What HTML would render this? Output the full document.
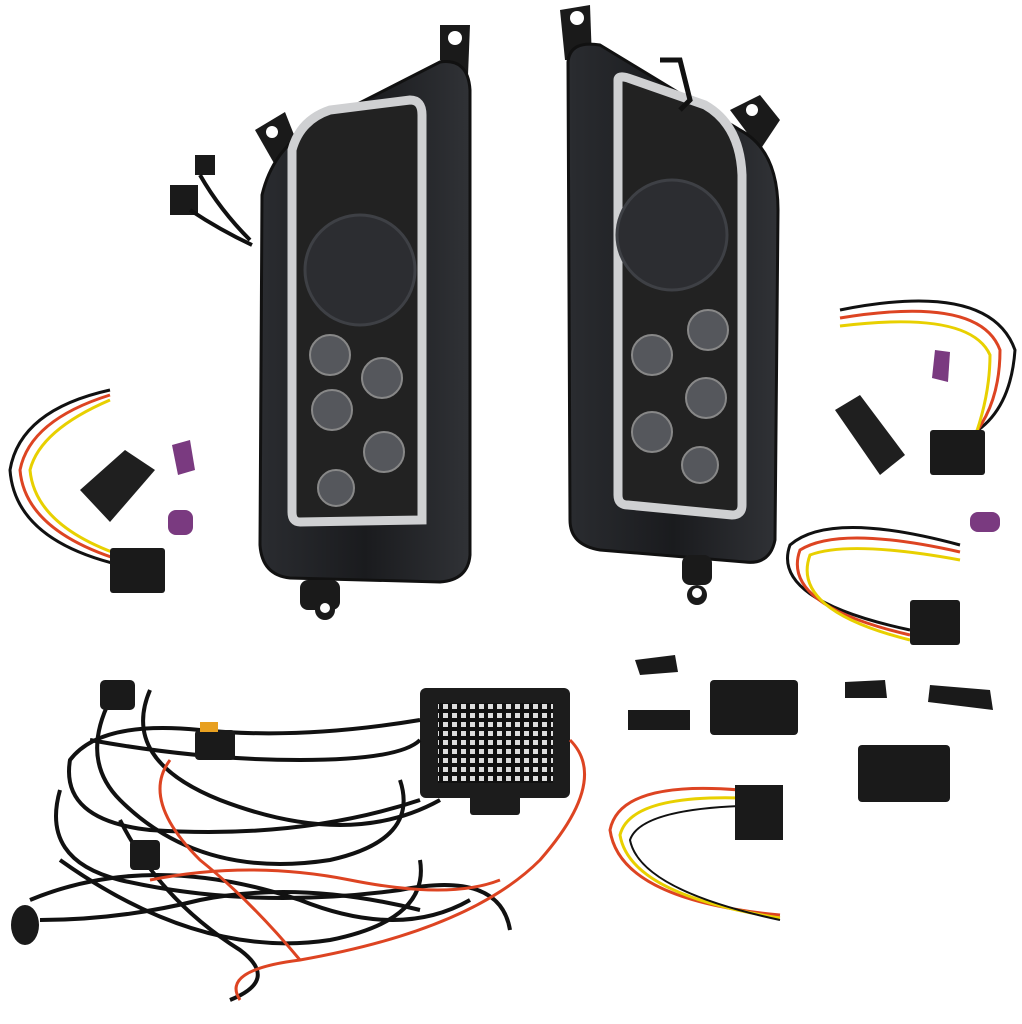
<!DOCTYPE html>
<html><head><meta charset="utf-8"><style>
html,body{margin:0;padding:0;background:#fff;}
svg{display:block;}
</style></head><body>
<svg width="1022" height="1024" viewBox="0 0 1022 1024" xmlns="http://www.w3.org/2000/svg">
<rect width="1022" height="1024" fill="#fff"/>
<defs>
<linearGradient id="hg" x1="0" x2="1"><stop offset="0" stop-color="#2a2c30"/><stop offset="0.5" stop-color="#1a1b1e"/><stop offset="1" stop-color="#303236"/></linearGradient>
<pattern id="dots" width="9" height="9" patternUnits="userSpaceOnUse"><rect width="9" height="9" fill="#111"/><rect x="2" y="2" width="5" height="5" fill="#ddd"/></pattern>
</defs>

<!-- Left headlight -->
<path d="M440 25 L470 25 L468 75 L440 60 Z" fill="#1a1a1a"/>
<circle cx="455" cy="38" r="7" fill="#fff"/>
<path d="M255 130 L285 112 L300 150 L275 165 Z" fill="#1a1a1a"/>
<circle cx="272" cy="132" r="6" fill="#fff"/>
<path d="M262 195 Q275 140 330 118 L440 62 Q468 58 470 90 L470 555 Q468 580 440 582 L290 578 Q262 575 260 545 Z" fill="url(#hg)" stroke="#111" stroke-width="3"/>
<path d="M292 150 Q300 120 330 110 L410 100 Q422 100 422 115 L422 520 L300 522 Q292 522 292 512 Z" fill="#222" stroke="#cfd0d2" stroke-width="9"/>
<circle cx="360" cy="270" r="55" fill="#2c2d31" stroke="#3e4045" stroke-width="3"/>
<g fill="#55575c" stroke="#888" stroke-width="2">
<circle cx="330" cy="355" r="20"/><circle cx="382" cy="378" r="20"/><circle cx="332" cy="410" r="20"/><circle cx="384" cy="452" r="20"/><circle cx="336" cy="488" r="18"/>
</g>
<rect x="300" y="580" width="40" height="30" rx="8" fill="#1a1a1a"/><circle cx="325" cy="610" r="10" fill="#1a1a1a"/><circle cx="325" cy="608" r="5" fill="#fff"/>
<!-- small plugs left -->
<rect x="170" y="185" width="28" height="30" fill="#1a1a1a"/><rect x="195" y="155" width="20" height="20" fill="#1a1a1a"/>
<path d="M200 175 Q220 210 250 240" stroke="#111" stroke-width="4" fill="none"/>
<path d="M190 210 Q220 230 252 245" stroke="#111" stroke-width="4" fill="none"/>

<!-- Right headlight -->
<path d="M560 10 L590 5 L592 60 L565 60 Z" fill="#1a1a1a"/>
<circle cx="577" cy="18" r="7" fill="#fff"/>
<path d="M730 110 L760 95 L780 120 L760 150 Z" fill="#1a1a1a"/><circle cx="752" cy="110" r="6" fill="#fff"/>
<path d="M568 62 Q570 40 600 45 L740 130 Q778 150 778 210 L775 540 Q770 565 745 562 L600 550 Q570 545 570 520 Z" fill="url(#hg)" stroke="#111" stroke-width="3"/>
<path d="M618 80 Q618 75 628 78 L705 105 Q740 125 742 175 L742 505 Q742 515 732 515 L628 505 Q618 505 618 495 Z" fill="#222" stroke="#cfd0d2" stroke-width="9"/>
<circle cx="672" cy="235" r="55" fill="#2c2d31" stroke="#3e4045" stroke-width="3"/>
<g fill="#55575c" stroke="#888" stroke-width="2">
<circle cx="708" cy="330" r="20"/><circle cx="652" cy="355" r="20"/><circle cx="706" cy="398" r="20"/><circle cx="652" cy="432" r="20"/><circle cx="700" cy="465" r="18"/>
</g>
<rect x="682" y="555" width="30" height="30" rx="8" fill="#1a1a1a"/><circle cx="697" cy="595" r="10" fill="#1a1a1a"/><circle cx="697" cy="593" r="5" fill="#fff"/>
<path d="M660 60 L680 60 L690 100 L680 110" stroke="#111" stroke-width="5" fill="none"/>

<!-- left wire harness pieces -->
<path d="M110 390 Q20 410 10 470 Q15 540 120 565" stroke="#111" stroke-width="3" fill="none"/>
<path d="M110 395 Q30 420 20 470 Q25 530 120 560" stroke="#d42" stroke-width="3" fill="none"/>
<path d="M110 400 Q40 430 30 470 Q35 525 120 555" stroke="#e8d000" stroke-width="3" fill="none"/>
<rect x="110" y="548" width="55" height="45" rx="3" fill="#1a1a1a"/>
<path d="M80 490 L125 450 L155 470 L110 522 Z" fill="#1f1f1f"/>
<path d="M172 445 L190 440 L195 470 L178 475 Z" fill="#7a3a80"/>
<rect x="168" y="510" width="25" height="25" rx="8" fill="#7a3a80"/>

<!-- right wire harness pieces -->
<path d="M840 310 Q990 280 1015 350 Q1010 420 960 440" stroke="#111" stroke-width="3" fill="none"/>
<path d="M840 318 Q980 295 1000 350 Q1000 410 965 445" stroke="#d42" stroke-width="3" fill="none"/>
<path d="M840 326 Q970 310 990 355 Q990 400 970 450" stroke="#e8d000" stroke-width="3" fill="none"/>
<rect x="930" y="430" width="55" height="45" rx="3" fill="#1a1a1a"/>
<path d="M835 410 L860 395 L905 455 L880 475 Z" fill="#1f1f1f"/>
<path d="M935 350 L950 352 L948 382 L932 378 Z" fill="#7a3a80"/>
<rect x="970" y="512" width="30" height="20" rx="8" fill="#7a3a80"/>
<path d="M960 545 Q830 510 790 545 Q770 600 910 630" stroke="#111" stroke-width="3" fill="none"/>
<path d="M960 552 Q840 525 800 550 Q780 605 910 635" stroke="#d42" stroke-width="3" fill="none"/>
<path d="M960 560 Q850 540 810 555 Q790 610 910 640" stroke="#e8d000" stroke-width="3" fill="none"/>
<rect x="910" y="600" width="50" height="45" rx="3" fill="#1a1a1a"/>

<!-- small connectors -->
<path d="M635 660 L675 655 L678 672 L640 675 Z" fill="#1a1a1a"/>
<rect x="710" y="680" width="88" height="55" rx="4" fill="#1a1a1a"/>
<path d="M628 710 L690 710 L690 730 L628 730 Z" fill="#1a1a1a"/>
<path d="M845 682 L885 680 L887 698 L845 698 Z" fill="#1a1a1a"/>
<path d="M930 685 L990 690 L993 710 L928 702 Z" fill="#1a1a1a"/>
<rect x="858" y="745" width="92" height="57" rx="4" fill="#1a1a1a"/>
<path d="M740 790 Q620 780 610 830 Q620 900 780 915" stroke="#d42" stroke-width="3" fill="none"/>
<path d="M740 798 Q630 795 620 835 Q630 895 780 918" stroke="#e8d000" stroke-width="3" fill="none"/>
<path d="M740 806 Q640 810 630 840 Q640 890 780 920" stroke="#111" stroke-width="2" fill="none"/>
<rect x="735" y="785" width="48" height="55" fill="#1a1a1a"/>

<!-- control box -->
<rect x="420" y="688" width="150" height="110" rx="6" fill="#1c1c1c"/>
<rect x="438" y="703" width="115" height="80" fill="url(#dots)"/>
<rect x="470" y="795" width="50" height="20" rx="3" fill="#1c1c1c"/>

<!-- main harness -->
<g fill="none" stroke="#111" stroke-width="4">
<path d="M420 720 Q300 740 200 730 Q100 720 70 760 Q60 820 150 830 Q300 840 420 800"/>
<path d="M110 700 Q80 760 120 800 Q200 880 330 860 Q420 840 400 780"/>
<path d="M60 790 Q40 860 120 880 Q250 910 400 890 Q500 870 510 930"/>
<path d="M30 900 Q150 850 300 900 Q400 940 470 900"/>
<path d="M150 690 Q120 760 220 800 Q350 850 440 800"/>
<path d="M60 860 Q200 960 330 940 Q430 920 420 860"/>
<path d="M120 820 Q160 900 240 950 Q280 980 230 1000"/>
<path d="M90 740 Q200 760 300 760 Q400 760 420 740"/>
<path d="M40 920 Q120 920 200 900 Q300 880 420 910"/>
</g>
<g fill="none" stroke="#d42" stroke-width="3">
<path d="M570 740 Q610 780 540 860 Q470 930 300 960 Q220 970 240 1000"/>
<path d="M150 880 Q250 860 350 880 Q450 900 500 880"/>
<path d="M170 760 Q140 800 200 860 Q250 900 300 960"/>
</g>
<rect x="100" y="680" width="35" height="30" rx="5" fill="#1a1a1a"/>
<rect x="195" y="730" width="40" height="30" rx="4" fill="#1a1a1a"/>
<rect x="200" y="722" width="18" height="10" fill="#e8a020"/>
<rect x="130" y="840" width="30" height="30" rx="4" fill="#1a1a1a"/>
<ellipse cx="25" cy="925" rx="14" ry="20" fill="#1a1a1a"/>
</svg>
</body></html>
